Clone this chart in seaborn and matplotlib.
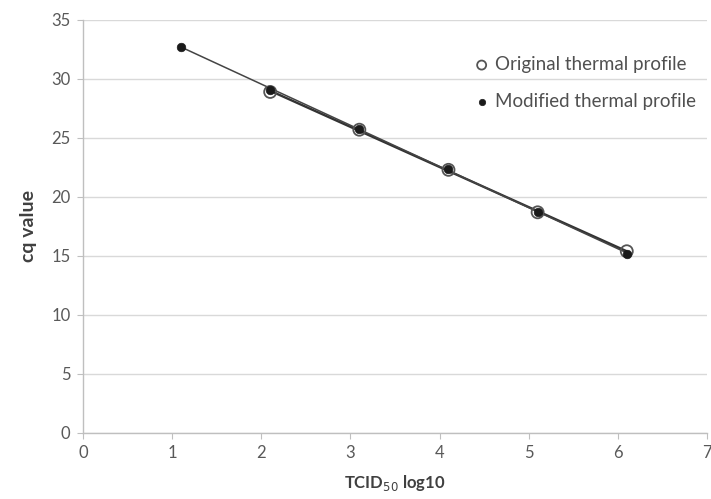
import numpy as np
import pandas as pd
import matplotlib
matplotlib.use("Agg")
import matplotlib.pyplot as plt
import seaborn as sns

# values
orig_x = [2.1, 3.1, 4.1, 5.1, 6.1]
orig_cq = [28.9, 25.7, 22.3, 18.7, 15.4]
mod_x = [1.1, 2.1, 3.1, 4.1, 5.1, 6.1]
mod_cq = [32.7, 29.1, 25.8, 22.4, 18.7, 15.2]

x_ticks = [0, 1, 2, 3, 4, 5, 6, 7]
y_ticks = [0, 5, 10, 15, 20, 25, 30, 35]

orig = pd.DataFrame({"x": orig_x, "cq": orig_cq})
mod = pd.DataFrame({"x": mod_x, "cq": mod_cq})

sns.set_style("white")
plt.rcParams['font.family'] = ['Lato', 'DejaVu Sans']

fig = plt.figure(figsize=(7.11, 4.99), dpi=100)
ax = fig.add_axes([0.1167, 0.1323, 0.8777, 0.8277])

# trendlines
sns.regplot(data=orig, x="x", y="cq", ax=ax, scatter=False, ci=None,
            line_kws={"color": "#333333", "lw": 1.7})
sns.regplot(data=mod, x="x", y="cq", ax=ax, scatter=False, ci=None,
            line_kws={"color": "#444444", "lw": 1.1})

sns.scatterplot(data=orig, x="x", y="cq", ax=ax, marker="o", s=75,
                facecolor="none", edgecolor="#555555", linewidth=1.3,
                label="Original thermal profile", zorder=3)
sns.scatterplot(data=mod, x="x", y="cq", ax=ax, marker="o", s=38,
                color="#1a1a1a", edgecolor="#1a1a1a",
                label="Modified thermal profile", zorder=4)

ax.set_xlim(0, 7)
ax.set_ylim(0, 35)
ax.set_xticks(x_ticks)
ax.set_yticks(y_ticks)
ax.yaxis.grid(True, color="#d9d9d9", lw=1)
ax.xaxis.grid(False)

for s in ["top", "right"]:
    ax.spines[s].set_visible(False)
for s in ["left", "bottom"]:
    ax.spines[s].set_color("#bfbfbf")
    ax.spines[s].set_linewidth(1)

ax.tick_params(axis="both", which="both", length=4, color="#bfbfbf",
               labelsize=12, labelcolor="#595959", direction="out")
ax.tick_params(axis="x", bottom=True, pad=5)
ax.tick_params(axis="y", left=True, pad=5)

ax.set_xlabel("TCID$_{50}$ log10", fontsize=12, fontweight="bold",
              color="#404040", labelpad=8)
ax.set_ylabel("cq value", fontsize=14, fontweight="bold",
              color="#404040", labelpad=10)

leg = ax.legend(loc="upper right", bbox_to_anchor=(1.0, 0.94), frameon=False,
                fontsize=13.5, labelspacing=1.05, handletextpad=0.2,
                handlelength=1.0, markerscale=0.75, labelcolor="#505050",
                borderaxespad=0.2)

fig.savefig("out.png", dpi=100)
